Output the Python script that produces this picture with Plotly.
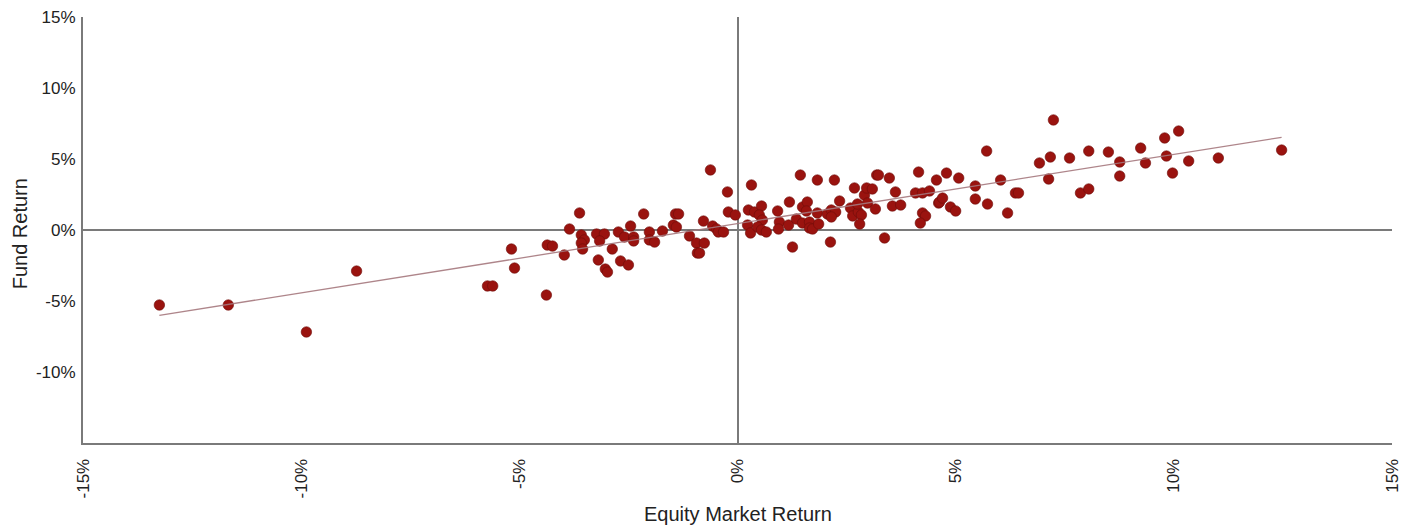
import numpy as np
import plotly.graph_objects as go

# Equity market return (%) and fund return (%)
equity_return = [
    -13.25, -11.67, -9.88, -8.73, -5.73, -5.61, -4.38, -5.18, -5.11, -4.36, -4.24,
    -3.97, -3.85, -3.62, -3.58, -3.51, -3.58, -3.55, -3.19, -3.23, -3.05, -3.16,
    -3.03, -2.98, -2.87, -2.73, -2.68, -2.59, -2.50, -2.45, -2.38, -2.38, -2.15,
    -2.02, -2.02, -1.90, -1.72, -1.47, -1.42, -1.35, -1.40, -1.10, -0.94, -0.76,
    -0.92, -0.87, -0.78, -0.57, -0.48, -0.44, -0.32, -0.23, -0.21, -0.05, -0.62,
    0.32, 0.25, 0.23, 0.30, 0.39, 0.55, 0.50, 0.57, 0.46, 0.55, 0.66, 0.92, 0.96,
    0.94, 1.19, 1.17, 1.26, 1.35, 1.44, 1.49, 1.60, 1.58, 1.49, 1.65, 1.65, 1.72,
    1.86, 1.83, 1.83, 2.13, 2.06, 2.15, 2.25, 2.15, 2.22, 2.34, 2.59, 2.64, 2.77,
    2.84, 2.80, 2.68, 2.75, 2.91, 2.96, 2.98, 3.09, 3.16, 3.19, 3.23, 3.37, 3.48,
    3.55, 3.62, 3.74, 4.15, 4.08, 4.24, 4.40, 4.24, 4.31, 4.19, 4.56, 4.61, 4.79,
    5.07, 4.63, 4.70, 4.88, 5.00, 5.45, 5.45, 5.71, 5.73, 6.03, 6.19, 6.37, 6.44,
    6.92, 7.13, 7.17, 7.24, 7.61, 7.86, 8.05, 8.05, 8.50, 8.76, 8.76, 9.24, 9.35,
    9.79, 9.83, 10.11, 9.97, 10.34, 11.02, 12.47,
]
fund_return = [
    -5.28, -5.28, -7.18, -2.89, -3.94, -3.94, -4.58, -1.34, -2.68, -1.06, -1.13,
    -1.76, 0.07, 1.20, -0.35, -0.70, -0.92, -1.34, -2.11, -0.28, -0.28, -0.77,
    -2.75, -2.96, -1.34, -0.14, -2.18, -0.49, -2.46, 0.28, -0.49, -0.77, 1.13,
    -0.14, -0.70, -0.85, -0.07, 0.35, 1.13, 1.13, 0.21, -0.42, -0.92, -0.92,
    -1.62, -1.62, 0.63, 0.28, 0.07, -0.14, -0.14, 2.68, 1.27, 1.06, 4.23,
    3.17, 1.41, 0.35, -0.21, 1.27, 1.69, 1.06, 0.70, 0.21, 0.00, -0.14, 1.34, 0.56,
    0.07, 1.97, 0.35, -1.20, 0.77, 3.87, 1.62, 1.97, 1.34, 0.49, 0.56, 0.14, 0.07,
    0.42, 1.20, 3.52, -0.85, 1.13, 1.41, 1.27, 0.92, 3.52, 2.04, 1.55, 0.99, 1.27,
    1.06, 0.42, 2.96, 1.83, 2.46, 2.96, 1.90, 2.89, 1.48, 3.87, 3.87, -0.56, 3.66,
    1.69, 2.68, 1.76, 4.08, 2.61, 2.61, 2.75, 1.20, 0.99, 0.49, 3.52, 1.90, 4.01,
    3.66, 1.97, 2.25, 1.62, 1.34, 3.10, 2.18, 5.56, 1.83, 3.52, 1.20, 2.61, 2.61,
    4.72, 3.59, 5.14, 7.75, 5.07, 2.61, 2.89, 5.56, 5.49, 4.79, 3.80, 5.77, 4.72,
    6.48, 5.21, 6.97, 4.01, 4.86, 5.07, 5.63,
]

x_ticks = [-15, -10, -5, 0, 5, 10, 15]
x_tick_labels = ["-15%", "-10%", "-5%", "0%", "5%", "10%", "15%"]
y_ticks = [-10, -5, 0, 5, 10, 15]
y_tick_labels = ["-10%", "-5%", "0%", "5%", "10%", "15%"]
x_title = "Equity Market Return"
y_title = "Fund Return"

# Least-squares trend line over the observed range
xs = np.array(equity_return)
ys = np.array(fund_return)
slope, intercept = np.polyfit(xs, ys, 1)
trend_x = [xs.min(), xs.max()]
trend_y = [slope * v + intercept for v in trend_x]

FONT = "Liberation Sans, Arial, Helvetica, sans-serif"
AXIS_COLOR = "#7a7a7a"

fig = go.Figure()
fig.add_trace(go.Scatter(
    x=equity_return, y=fund_return, mode="markers",
    marker=dict(size=10.5, color="#9a130f", line=dict(color="#6e0d0a", width=0.6)),
    hoverinfo="x+y", showlegend=False,
))
fig.add_trace(go.Scatter(
    x=trend_x, y=trend_y, mode="lines",
    line=dict(color="rgba(165,120,125,0.9)", width=1.3),
    hoverinfo="skip", showlegend=False,
))

# page body adds an 8px offset; size figure so plot area lands at 83..1392 x 17..443
fig.update_layout(
    width=1402, height=520,
    margin=dict(l=75, r=18, t=9, b=85),
    paper_bgcolor="white", plot_bgcolor="white",
    font=dict(family=FONT, size=17, color="#222222"),
    xaxis=dict(
        range=[-15, 15], tickvals=x_ticks, ticktext=x_tick_labels, tickangle=-90,
        showgrid=False, zeroline=True, zerolinecolor=AXIS_COLOR, zerolinewidth=2,
        showline=True, linecolor=AXIS_COLOR, linewidth=2,
        ticks="outside", ticklen=7, tickcolor="rgba(0,0,0,0)",
        automargin=False, tickfont=dict(size=17), ticklabeloverflow="allow",
    ),
    yaxis=dict(
        range=[-15, 15], tickvals=y_ticks, ticktext=y_tick_labels,
        showgrid=False, zeroline=True, zerolinecolor=AXIS_COLOR, zerolinewidth=2,
        showline=True, linecolor=AXIS_COLOR, linewidth=2,
        ticks="outside", ticklen=2, tickcolor="rgba(0,0,0,0)",
        automargin=False, tickfont=dict(size=17), ticklabeloverflow="allow",
    ),
    annotations=[
        dict(text=x_title, xref="paper", yref="paper", x=0.5, y=-0.167,
             xanchor="center", yanchor="middle", showarrow=False,
             font=dict(size=20, family=FONT, color="#222222")),
        dict(text=y_title, xref="paper", yref="paper", x=-0.0481, y=0.49,
             xanchor="center", yanchor="middle", textangle=-90, showarrow=False,
             font=dict(size=20, family=FONT, color="#222222")),
    ],
)

fig.write_html("out.html")
